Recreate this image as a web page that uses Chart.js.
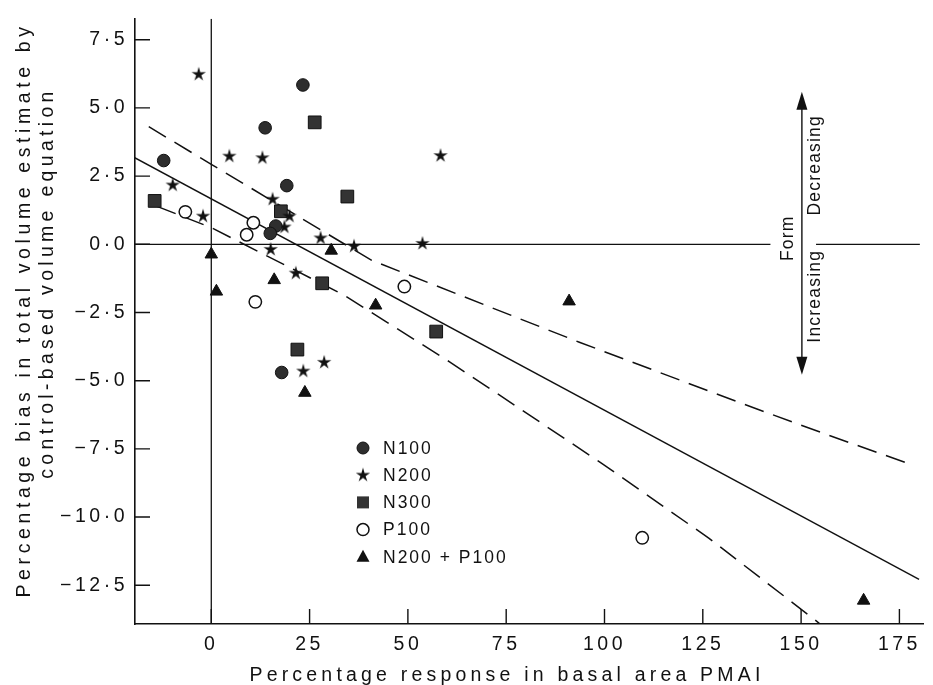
<!DOCTYPE html>
<html><head><meta charset="utf-8">
<script src="https://cdn.jsdelivr.net/npm/chart.js@4.4.1/dist/chart.umd.min.js"></script>
<style>html,body{margin:0;padding:0;background:#fff}#wrap{width:933px;height:685px}</style>
</head><body><div id="wrap"><canvas id="c" width="933" height="685"></canvas></div>
<script>
// ---- data ----
const seriesNames = ['N100', 'N200', 'N300', 'P100', 'N200 + P100'];
const n100 = [{x:-12.1,y:3.07},{x:13.7,y:4.27},{x:23.3,y:5.84},{x:19.2,y:2.15},{x:16.4,y:0.67},{x:15.0,y:0.40},{x:17.9,y:-4.70}];
const n200 = [{x:-3.2,y:6.25},{x:4.6,y:3.25},{x:13.0,y:3.19},{x:-9.8,y:2.19},{x:15.6,y:1.67},{x:-2.1,y:1.05},{x:19.9,y:1.05},{x:18.6,y:0.65},{x:27.8,y:0.25},{x:36.3,y:-0.05},{x:15.1,y:-0.17},{x:21.5,y:-1.04},{x:28.7,y:-4.31},{x:23.4,y:-4.63},{x:58.3,y:3.27},{x:53.7,y:0.05}];
const n300 = [{x:26.3,y:4.47},{x:34.6,y:1.75},{x:-14.4,y:1.59},{x:17.7,y:1.21},{x:28.2,y:-1.43},{x:57.2,y:-3.20},{x:21.9,y:-3.86}];
const p100 = [{x:-6.6,y:1.19},{x:10.7,y:0.79},{x:9.0,y:0.35},{x:11.2,y:-2.11},{x:49.1,y:-1.55},{x:109.6,y:-10.76}];
const n200p100 = [{x:30.5,y:-0.23},{x:0.0,y:-0.37},{x:16.0,y:-1.31},{x:1.3,y:-1.73},{x:41.8,y:-2.24},{x:23.8,y:-5.44},{x:91.0,y:-2.09},{x:165.9,y:-13.06}];
const fitLine = [{x:-19.7,y:3.19},{x:180.0,y:-12.28}];
const upperBand = [{x:-15.9,y:4.31},{x:0,y:2.93},{x:40.8,y:-0.59},{x:93.6,y:-3.59},{x:135.4,y:-5.86},{x:157.0,y:-7.00},{x:178.5,y:-8.10}];
const lowerBand = [{x:-13.8,y:1.39},{x:0,y:0.61},{x:33.6,y:-1.85},{x:60.6,y:-4.31},{x:99.2,y:-8.02},{x:126.6,y:-10.78},{x:153.6,y:-13.78},{x:155.5,y:-14.0}];
const zeroLineLeft = [{x:-19.4,y:0},{x:142.2,y:0}];
const zeroLineRight = [{x:153.8,y:0},{x:180.2,y:0}];
const zeroVertical = [{x:0,y:-13.92},{x:0,y:8.27}];
const xTickValues = [0, 25, 50, 75, 100, 125, 150, 175];
const xTickLabels = ['0', '25', '50', '75', '100', '125', '150', '175'];
const yTickValues = [-12.5, -10, -7.5, -5, -2.5, 0, 2.5, 5, 7.5];
const yTickLabels = ['\u221212\u00b75', '\u221210\u00b70', '\u22127\u00b75', '\u22125\u00b70', '\u22122\u00b75', '0\u00b70', '2\u00b75', '5\u00b70', '7\u00b75'];
const xTitle = 'Percentage response in basal area PMAI';
const yTitleLines = ['Percentage bias in total volume estimate by', 'control-based volume equation'];
const formArrow = {x:150.2, yTop:5.59, yBottom:-4.78};
const formTexts = ['Form', 'Decreasing', 'Increasing'];

// ---- styling ----
const FONT = '"Liberation Sans", Arial, Helvetica, sans-serif';
const INK = '#111';
const starImg = (() => {
  const c = document.createElement('canvas'); c.width = 16; c.height = 16;
  const g = c.getContext('2d'); g.beginPath();
  for (let i = 0; i < 10; i++) {
    const r = i % 2 ? 2.7 : 7.5, a = -Math.PI/2 + i*Math.PI/5;
    g.lineTo(8 + r*Math.cos(a), 8.6 + r*Math.sin(a));
  }
  g.closePath(); g.fillStyle = INK; g.fill(); return c;
})();

function lineDs(data, dash, width) {
  return {data, showLine:true, pointRadius:0, pointHoverRadius:0, borderColor:INK, borderWidth:width||1.4,
    borderDash:dash||[], tension:0, fill:false, order:5};
}
const markerDs = [
  {label:seriesNames[0], data:n100, pointStyle:'circle', pointRadius:6.3, backgroundColor:'#2e2e2e', borderColor:'#111', borderWidth:1},
  {label:seriesNames[1], data:n200, pointStyle:starImg, pointRadius:8, backgroundColor:INK, borderColor:INK},
  {label:seriesNames[2], data:n300, pointStyle:'rect', pointRadius:9, backgroundColor:'#333', borderColor:'#111', borderWidth:1},
  {label:seriesNames[3], data:p100, pointStyle:'circle', pointRadius:6.2, backgroundColor:'#fff', borderColor:INK, borderWidth:1.5},
  {label:seriesNames[4], data:n200p100, pointStyle:'triangle', pointRadius:7.2, backgroundColor:INK, borderColor:INK, borderWidth:1}
].map(d => Object.assign({showLine:false, pointHoverRadius:d.pointRadius, order:1}, d));

const customDraw = {
  id:'customDraw',
  beforeDraw(chart){ chart.ctx.letterSpacing = '3.5px'; },
  afterDraw(chart){
    const ctx = chart.ctx, xs = chart.scales.x, ys = chart.scales.y, ca = chart.chartArea;
    ctx.save();
    ctx.letterSpacing = '0px';
    ctx.strokeStyle = INK; ctx.fillStyle = INK; ctx.lineWidth = 1.4;
    // inward tick marks
    ctx.beginPath();
    xTickValues.forEach(v => { const px = xs.getPixelForValue(v); ctx.moveTo(px, ca.bottom); ctx.lineTo(px, ca.bottom - 15); });
    yTickValues.forEach(v => { const py = ys.getPixelForValue(v); ctx.moveTo(ca.left, py); ctx.lineTo(ca.left + 15, py); });
    ctx.stroke();
    // double arrow
    const ax = xs.getPixelForValue(formArrow.x), at = ys.getPixelForValue(formArrow.yTop), ab = ys.getPixelForValue(formArrow.yBottom);
    ctx.beginPath(); ctx.moveTo(ax, at + 10); ctx.lineTo(ax, ab - 10); ctx.stroke();
    ctx.beginPath(); ctx.moveTo(ax, at); ctx.lineTo(ax - 5.5, at + 18); ctx.lineTo(ax + 5.5, at + 18); ctx.closePath(); ctx.fill();
    ctx.beginPath(); ctx.moveTo(ax, ab); ctx.lineTo(ax - 5.5, ab - 18); ctx.lineTo(ax + 5.5, ab - 18); ctx.closePath(); ctx.fill();
    // rotated form texts
    const mid = ys.getPixelForValue(0);
    ctx.font = '17.5px ' + FONT; ctx.letterSpacing = '1.2px'; ctx.textAlign = 'center'; ctx.textBaseline = 'middle';
    const rot = (t, x, y) => { ctx.save(); ctx.translate(x, y); ctx.rotate(-Math.PI/2); ctx.fillText(t, 0, 0); ctx.restore(); };
    rot(formTexts[0], ax - 14, mid - 6);
    rot(formTexts[1], ax + 13, mid - 79);
    rot(formTexts[2], ax + 13, mid + 52);
    // legend
    ctx.font = '17.5px ' + FONT; ctx.letterSpacing = '2px'; ctx.textAlign = 'left'; ctx.textBaseline = 'middle';
    const lx = 363, ly0 = 448, dy = 27.2;
    markerDs.forEach((d, i) => {
      const y = ly0 + i*dy;
      ctx.save();
      ctx.fillStyle = d.backgroundColor; ctx.strokeStyle = d.borderColor; ctx.lineWidth = d.borderWidth || 1;
      if (i === 0 || i === 3) { ctx.beginPath(); ctx.arc(lx, y, 6, 0, Math.PI*2); ctx.fill(); ctx.stroke(); }
      else if (i === 1) { ctx.drawImage(starImg, lx - 8, y - 8.6); }
      else if (i === 2) { ctx.fillRect(lx - 6, y - 6, 12, 12); }
      else { ctx.beginPath(); ctx.moveTo(lx, y - 7); ctx.lineTo(lx + 6.5, y + 5); ctx.lineTo(lx - 6.5, y + 5); ctx.closePath(); ctx.fill(); }
      ctx.restore();
      ctx.fillText(d.label, lx + 20, y + 1);
    });
    // axis titles
    ctx.font = '19.5px ' + FONT; ctx.letterSpacing = '4.2px'; ctx.textAlign = 'center'; ctx.textBaseline = 'alphabetic';
    ctx.fillText(xTitle, 507, 681);
    ctx.save(); ctx.letterSpacing = '4.6px'; ctx.translate(30, 310); ctx.rotate(-Math.PI/2); ctx.fillText(yTitleLines[0], 0, 0); ctx.restore();
    ctx.save(); ctx.letterSpacing = '4.3px'; ctx.translate(53, 283); ctx.rotate(-Math.PI/2); ctx.fillText(yTitleLines[1], 0, 0); ctx.restore();
    ctx.restore();
  }
};

new Chart(document.getElementById('c'), {
  type:'scatter',
  data:{datasets:[
    ...markerDs,
    lineDs(fitLine, [], 1.4),
    lineDs(upperBand, [20, 10], 1.5),
    lineDs(lowerBand, [20, 10], 1.5),
    lineDs(zeroLineLeft, [], 1.3),
    lineDs(zeroLineRight, [], 1.3),
    lineDs(zeroVertical, [], 1.3)
  ]},
  options:{
    responsive:false, animation:false, devicePixelRatio:1,
    layout:{padding:{top:8, right:8, left:0, bottom:0}},
    plugins:{legend:{display:false}, tooltip:{enabled:false}},
    scales:{
      x:{type:'linear', min:-19.4, max:181.0,
        grid:{display:false, drawTicks:false}, border:{display:true, color:INK, width:1.6},
        afterBuildTicks(s){ s.ticks = xTickValues.map(v => ({value:v})); },
        afterFit(s){ s.height = 61; },
        ticks:{color:INK, font:{family:FONT, size:19.5}, padding:9, maxRotation:0, autoSkip:false,
          callback:(v) => { const i = xTickValues.indexOf(v); return i >= 0 ? xTickLabels[i] : ''; }}
      },
      y:{type:'linear', min:-13.92, max:8.27,
        grid:{display:false, drawTicks:false}, border:{display:true, color:INK, width:1.6},
        afterBuildTicks(s){ s.ticks = yTickValues.map(v => ({value:v})); },
        afterFit(s){ s.width = 135; },
        ticks:{color:INK, font:{family:FONT, size:19.5}, padding:7, autoSkip:false,
          callback:(v) => { const i = yTickValues.indexOf(v); return i >= 0 ? yTickLabels[i] : ''; }}
      }
    }
  },
  plugins:[customDraw]
});
</script></body></html>
